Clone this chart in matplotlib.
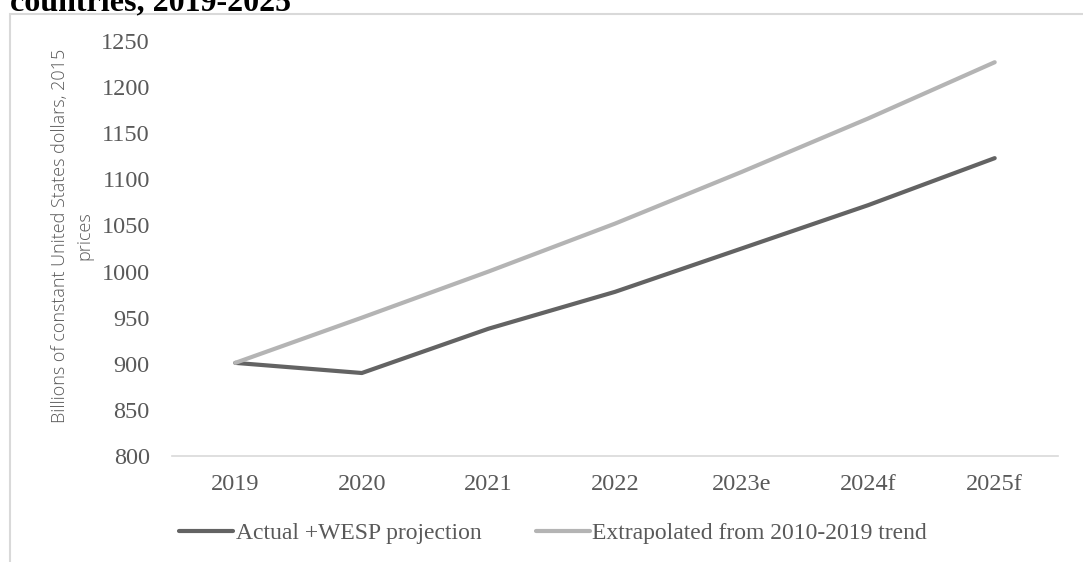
import matplotlib
matplotlib.use("Agg")
import matplotlib.pyplot as plt
from matplotlib.patches import Rectangle

# GDP path, billions of constant 2015 US dollars
years = ["2019", "2020", "2021", "2022", "2023e", "2024f", "2025f"]
actual = [901, 890, 938, 978, 1025, 1072, 1123]
extrapolated = [901, 950, 1000, 1052, 1108, 1166, 1227]

dark = "#636363"
light = "#b4b4b4"
text_col = "#595959"

plt.rcParams["font.family"] = ["Liberation Serif", "DejaVu Serif"]

fig = plt.figure(figsize=(10.83, 5.62), dpi=100)
ax = fig.add_axes([0.1588, 0.1886, 0.8181, 0.7384])

x = range(len(years))
ax.plot(x, actual, color=dark, lw=3, solid_capstyle="round", solid_joinstyle="round",
        label="Actual +WESP projection")
ax.plot(x, extrapolated, color=light, lw=3, solid_capstyle="round", solid_joinstyle="round",
        label="Extrapolated from 2010-2019 trend")

ax.set_xlim(-0.5, len(years) - 0.5)
ax.set_ylim(800, 1250)
ax.set_yticks(range(800, 1251, 50))
ax.set_xticks(list(x))
ax.set_xticklabels(years)
ax.tick_params(axis="both", length=0, labelsize=17.5, labelcolor=text_col)
ax.tick_params(axis="x", pad=13)
ax.tick_params(axis="y", pad=16)
for s in ["top", "right", "left"]:
    ax.spines[s].set_visible(False)
ax.spines["bottom"].set_color("#d9d9d9")
ax.spines["bottom"].set_linewidth(1.2)

ax.set_ylabel("Billions of constant United States dollars, 2015\nprices",
              family=["Open Sans", "DejaVu Sans"], fontweight="light",
              fontsize=13, color=text_col, linespacing=1.45)
ax.yaxis.set_label_coords(-0.089, 0.53)

fig.legend(loc="center", bbox_to_anchor=(553 / 1083, 1 - 533 / 562), ncol=2,
           frameon=False, fontsize=17, labelcolor=text_col, handlelength=2.3,
           handletextpad=0.1, columnspacing=2.3)

# chart frame and the (clipped) title line above it
fig.patches.append(Rectangle((10 / 1083, -0.1), 1.2, 1 - 14 / 562 + 0.1,
                             transform=fig.transFigure, fill=False,
                             edgecolor="#d9d9d9", lw=1.5))
fig.text(10 / 1083, 1 - 10 / 562, "countries, 2019-2025", fontsize=23,
         fontweight="bold", color="black", va="baseline", ha="left")

fig.savefig("out.png", dpi=100)
